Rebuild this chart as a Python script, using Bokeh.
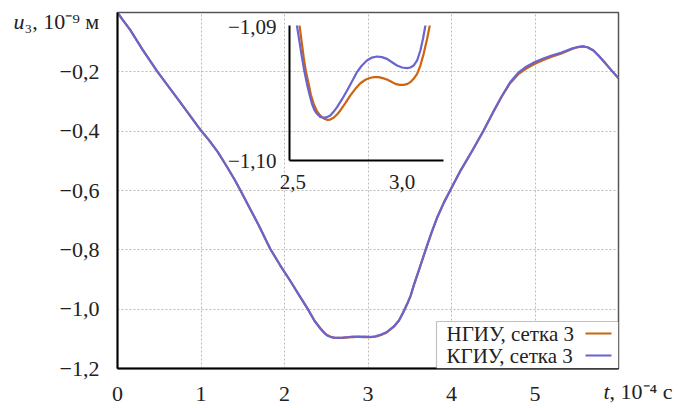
from bokeh.plotting import figure
from bokeh.models import Range1d, FixedTicker, Label, BoxAnnotation, CustomJSTickFormatter
from bokeh.layouts import column
from bokeh.embed import file_html
from bokeh.resources import INLINE

# ---------------- data ----------------
t_kgiu = [0.00, 0.06, 0.15, 0.30, 0.48, 0.75, 1.00, 1.10, 1.20, 1.30, 1.40, 1.47, 1.60, 1.70, 1.83, 1.95,
          2.07, 2.18, 2.28, 2.36, 2.43, 2.48, 2.50,
          2.518, 2.530, 2.541, 2.552, 2.564, 2.576, 2.587, 2.598, 2.610, 2.625, 2.641, 2.656, 2.671, 2.686,
          2.702, 2.725, 2.748, 2.771, 2.793, 2.816, 2.839, 2.862, 2.885, 2.908, 2.931, 2.954, 2.977, 3.000,
          3.023, 3.038, 3.053, 3.069, 3.084, 3.096, 3.107,
          3.15, 3.22, 3.31, 3.37, 3.42, 3.47, 3.51, 3.55, 3.62, 3.69, 3.76, 3.83, 3.91, 3.99, 4.11, 4.25,
          4.38, 4.50, 4.60, 4.70, 4.80, 4.90, 5.00, 5.10, 5.20, 5.31, 5.45, 5.50, 5.57, 5.63, 5.70, 5.76,
          5.83, 5.90, 6.00]
u_kgiu = [0.000, -0.024, -0.058, -0.125, -0.200, -0.302, -0.398, -0.432, -0.470, -0.515, -0.562, -0.598,
          -0.668, -0.722, -0.797, -0.853, -0.905, -0.955, -1.000, -1.040, -1.066, -1.081, -1.0865,
          -1.08985, -1.09110, -1.09223, -1.09328, -1.09424, -1.09506, -1.09574, -1.09619, -1.09649, -1.09672,
          -1.09679, -1.09674, -1.09662, -1.09634, -1.09599, -1.09539, -1.09474, -1.09404, -1.09336, -1.09286,
          -1.09248, -1.09226, -1.09218, -1.09223, -1.09236, -1.09261, -1.09286, -1.09301, -1.09306, -1.09301,
          -1.09286, -1.09248, -1.09173, -1.09085, -1.08985,
          -1.0860, -1.078, -1.058, -1.038, -1.012, -0.982, -0.955, -0.918, -0.860, -0.800, -0.743, -0.690,
          -0.640, -0.597, -0.532, -0.465, -0.400, -0.335, -0.283, -0.236, -0.203, -0.182, -0.167, -0.155,
          -0.145, -0.136, -0.121, -0.117, -0.114, -0.117, -0.128, -0.145, -0.167, -0.190, -0.222]

t_ngiu = [0.00, 0.06, 0.15, 0.30, 0.48, 0.75, 1.00, 1.10, 1.20, 1.30, 1.40, 1.47, 1.60, 1.70, 1.83, 1.95,
          2.07, 2.18, 2.28, 2.36, 2.43, 2.48, 2.50,
          2.530, 2.540, 2.549, 2.559, 2.572, 2.582, 2.595, 2.610, 2.625, 2.641, 2.656, 2.671, 2.686, 2.702,
          2.717, 2.740, 2.763, 2.786, 2.809, 2.832, 2.855, 2.873, 2.893, 2.911, 2.931, 2.949, 2.969, 2.989,
          3.007, 3.023, 3.038, 3.053, 3.069, 3.084, 3.099, 3.115, 3.127,
          3.17, 3.22, 3.31, 3.37, 3.42, 3.47, 3.51, 3.55, 3.62, 3.69, 3.76, 3.83, 3.91, 3.99, 4.11, 4.25,
          4.38, 4.50, 4.60, 4.70, 4.80, 4.90, 5.00, 5.10, 5.20, 5.31, 5.45, 5.50, 5.57, 5.63, 5.70, 5.76,
          5.83, 5.90, 6.00]
u_ngiu = [0.000, -0.024, -0.058, -0.125, -0.200, -0.302, -0.398, -0.432, -0.470, -0.515, -0.562, -0.598,
          -0.668, -0.722, -0.797, -0.853, -0.905, -0.955, -1.000, -1.039, -1.064, -1.080, -1.0855,
          -1.08985, -1.09110, -1.09223, -1.09328, -1.09424, -1.09506, -1.09574, -1.09629, -1.09662, -1.09684,
          -1.09694, -1.09692, -1.09679, -1.09654, -1.09624, -1.09569, -1.09511, -1.09461, -1.09419, -1.09393,
          -1.09378, -1.09373, -1.09373, -1.09381, -1.09391, -1.09406, -1.09424, -1.09431, -1.09431, -1.09426,
          -1.09411, -1.09386, -1.09348, -1.09286, -1.09198, -1.09085, -1.08985,
          -1.0857, -1.0795, -1.059, -1.039, -1.012, -0.982, -0.955, -0.918, -0.860, -0.800, -0.743, -0.690,
          -0.640, -0.597, -0.532, -0.465, -0.400, -0.335, -0.284, -0.239, -0.208, -0.188, -0.173, -0.160,
          -0.149, -0.139, -0.122, -0.118, -0.114, -0.117, -0.128, -0.145, -0.167, -0.190, -0.222]

x_ticks = [0, 1, 2, 3, 4, 5]
y_ticks = [-1.2, -1.0, -0.8, -0.6, -0.4, -0.2]
inset_x_ticks = [2.5, 3.0]
inset_y_ticks = [-1.10, -1.09]

label_ngiu = "НГИУ, сетка 3"
label_kgiu = "КГИУ, сетка 3"

C_ORANGE = "#cc6410"
C_BLUE = "#6a63d2"
FONT = "'Liberation Serif', 'Times New Roman', serif"
FS = "22px"
TXT = "#222222"

# ---------------- main figure ----------------
FL, FR, FT, FB = 117, 618, 12, 368   # frame edges in page px
W, H = 682, 408
BL, BR = FL, W - FR                    # shared left/right borders

p = figure(width=W, height=H, x_range=Range1d(0, 6), y_range=Range1d(-1.2, 0),
           output_backend="svg", toolbar_location=None,
           min_border_left=BL, min_border_right=BR, min_border_top=FT, min_border_bottom=H - FB,
           background_fill_color="white", border_fill_color="white")
p.outline_line_color = "#555555"
p.outline_line_width = 1.5

for ax in (p.xaxis[0], p.yaxis[0]):
    ax.axis_line_color = "black"
    ax.axis_line_width = 2
    ax.major_tick_line_color = None
    ax.minor_tick_line_color = None
    ax.major_label_text_font = FONT
    ax.major_label_text_font_size = FS
    ax.major_label_text_color = TXT

p.xaxis[0].ticker = FixedTicker(ticks=x_ticks)
p.yaxis[0].ticker = FixedTicker(ticks=y_ticks)
p.xaxis[0].major_label_standoff = 12
p.yaxis[0].major_label_standoff = 12
p.xaxis[0].formatter = CustomJSTickFormatter(code="return tick.toFixed(0);")
p.yaxis[0].formatter = CustomJSTickFormatter(
    code="return tick.toFixed(1).replace('-', '\\u2212').replace('.', ',');")

p.xgrid.grid_line_color = "#bbbbbb"
p.ygrid.grid_line_color = "#bbbbbb"
p.xgrid.grid_line_dash = "2 2"
p.ygrid.grid_line_dash = "2 2"
p.xgrid.grid_line_width = 1
p.ygrid.grid_line_width = 1

p.line(t_ngiu, u_ngiu, line_color=C_ORANGE, line_width=2.2, line_join="round")
p.line(t_kgiu, u_kgiu, line_color=C_BLUE, line_width=2.2, line_join="round")


def fx(x):
    return x - FL


def fy(y):
    return FB - y


# legend (text first, sample line to the right)
p.add_layout(BoxAnnotation(left=fx(436), right=fx(618), top=fy(321), bottom=fy(368),
                           left_units="screen", right_units="screen", top_units="screen",
                           bottom_units="screen", fill_color="white", fill_alpha=1,
                           line_color="#333333", line_width=1.2))
for i, (lab, col) in enumerate([(label_ngiu, C_ORANGE), (label_kgiu, C_BLUE)]):
    yc = 333 + 22 * i
    p.add_layout(Label(x=fx(446), y=fy(yc), x_units="screen", y_units="screen", text=lab,
                       text_font=FONT, text_font_size="21px", text_baseline="middle",
                       text_color=TXT))
    p.add_layout(BoxAnnotation(left=fx(585), right=fx(611), top=fy(yc - 1), bottom=fy(yc + 1),
                               left_units="screen", right_units="screen", top_units="screen",
                               bottom_units="screen", fill_color=col, fill_alpha=1, line_color=None))

# ---------------- inset (same left/right borders as the main plot) ----------------
IFX, IFY = 289, 25          # inset frame top-left on page
IFW, IFH = 154, 135
IT, IB = 12, 40
IH = IT + IFH + IB
inset = figure(width=BL + IFW + BR, height=IH,
               x_range=Range1d(2.484, 3.19), y_range=Range1d(-1.1, -1.08985),
               output_backend="svg", toolbar_location=None,
               min_border_left=BL, min_border_right=BR, min_border_top=IT, min_border_bottom=IB,
               background_fill_alpha=0, border_fill_alpha=0, outline_line_color=None,
               margin=(-(H - (IFY - IT)), 0, 0, IFX - BL))
inset.grid.visible = False
for ax in (inset.xaxis[0], inset.yaxis[0]):
    ax.axis_line_color = "black"
    ax.axis_line_width = 2
    ax.major_tick_line_color = None
    ax.minor_tick_line_color = None
    ax.major_label_text_font = FONT
    ax.major_label_text_font_size = "21px"
    ax.major_label_text_color = TXT
inset.xaxis[0].ticker = FixedTicker(ticks=inset_x_ticks)
inset.yaxis[0].ticker = FixedTicker(ticks=inset_y_ticks)
inset.xaxis[0].major_label_standoff = 8
inset.yaxis[0].major_label_standoff = 7
inset.xaxis[0].formatter = CustomJSTickFormatter(code="return tick.toFixed(1).replace('.', ',');")
inset.yaxis[0].formatter = CustomJSTickFormatter(
    code="return tick.toFixed(2).replace('-', '\\u2212').replace('.', ',');")
inset.line(t_ngiu, u_ngiu, line_color=C_ORANGE, line_width=2.2, line_join="round")
inset.line(t_kgiu, u_kgiu, line_color=C_BLUE, line_width=2.2, line_join="round")

# ---------------- overlay for axis titles (whole page is its frame) ----------------
ov = figure(width=W, height=H, x_range=Range1d(0, W), y_range=Range1d(0, H),
            x_axis_type=None, y_axis_type=None, output_backend="svg", toolbar_location=None,
            min_border=0, background_fill_alpha=0, border_fill_alpha=0, outline_line_color=None,
            margin=(-(IFY - IT + IH), 0, 0, 0))
ov.grid.visible = False


def title_label(x, y, text, italic=False):
    ov.add_layout(Label(x=x, y=H - y, x_units="screen", y_units="screen", text=text,
                        text_font=FONT, text_font_size="22px",
                        text_font_style="italic" if italic else "normal",
                        text_baseline="middle", text_color=TXT))


title_label(13, 21, "u", italic=True)
title_label(24, 21, "₃, 10⁻⁹ м")
title_label(603, 391, "t", italic=True)
title_label(609, 391, ", 10⁻⁴ с")

for f in (p, ov, inset):
    if "frame_align" in f.properties():
        f.frame_align = False

layout = column(p, inset, ov)

open("out.html", "w").write(file_html(layout, INLINE))
